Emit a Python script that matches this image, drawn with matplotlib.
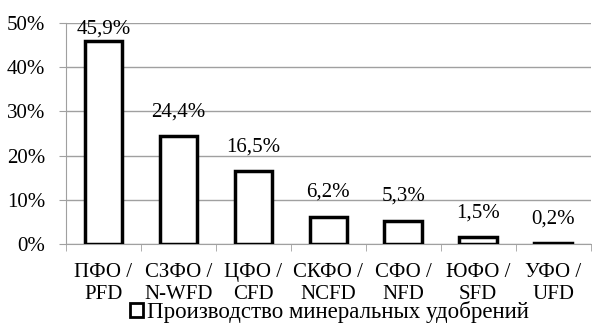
import matplotlib.pyplot as plt
from matplotlib.patches import Patch

plt.rcParams['font.family'] = ['Liberation Serif', 'DejaVu Serif']

categories = ['ПФО /\nPFD', 'СЗФО /\nN-WFD', 'ЦФО /\nCFD', 'СКФО /\nNCFD',
              'СФО /\nNFD', 'ЮФО /\nSFD', 'УФО /\nUFD']
values = [45.9, 24.4, 16.5, 6.2, 5.3, 1.5, 0.2]
value_labels = ['45,9%', '24,4%', '16,5%', '6,2%', '5,3%', '1,5%', '0,2%']
series_name = 'Производство минеральных удобрений'

fs = 15
fig = plt.figure(figsize=(5.92, 3.24), dpi=100)
ax = fig.add_axes([0.1115, 0.247, 0.886, 0.682])

x = range(len(categories))
ax.bar(x, values, width=0.5, color='white', edgecolor='black', linewidth=2.5, zorder=3)
for xi, v, lab in zip(x, values, value_labels):
    ax.text(xi, min(v + 3.3, 46.4), lab, ha='center', va='bottom', fontsize=fs)

ax.set_xlim(-0.5, len(categories) - 0.5)
ax.set_ylim(0, 50)
ax.set_yticks(range(0, 51, 10))
ax.set_yticklabels([f'{t}%' for t in range(0, 51, 10)], fontsize=fs)
ax.set_xticks(x)
ax.set_xticklabels(categories, fontsize=fs, linespacing=1.15)
ax.set_xticks([i - 0.5 for i in range(len(categories) + 1)], minor=True)
ax.tick_params(axis='x', which='major', length=0, pad=14)
ax.tick_params(axis='x', which='minor', length=5, color='#a0a0a0')
ax.tick_params(axis='y', length=5, color='#a0a0a0', pad=10)

ax.grid(axis='y', color='#a0a0a0', linewidth=1, zorder=0)
for s in ['top', 'right']:
    ax.spines[s].set_visible(False)
ax.spines['left'].set_color('#a0a0a0')
ax.spines['bottom'].set_color('#a0a0a0')

handle = Patch(facecolor='white', edgecolor='black', linewidth=2)
fig.legend([handle], [series_name], loc='lower center', bbox_to_anchor=(0.557, -0.06),
           frameon=False, fontsize=16.5, handlelength=0.55, handleheight=0.55,
           handletextpad=0.2)

fig.savefig('out.png', dpi=100)
